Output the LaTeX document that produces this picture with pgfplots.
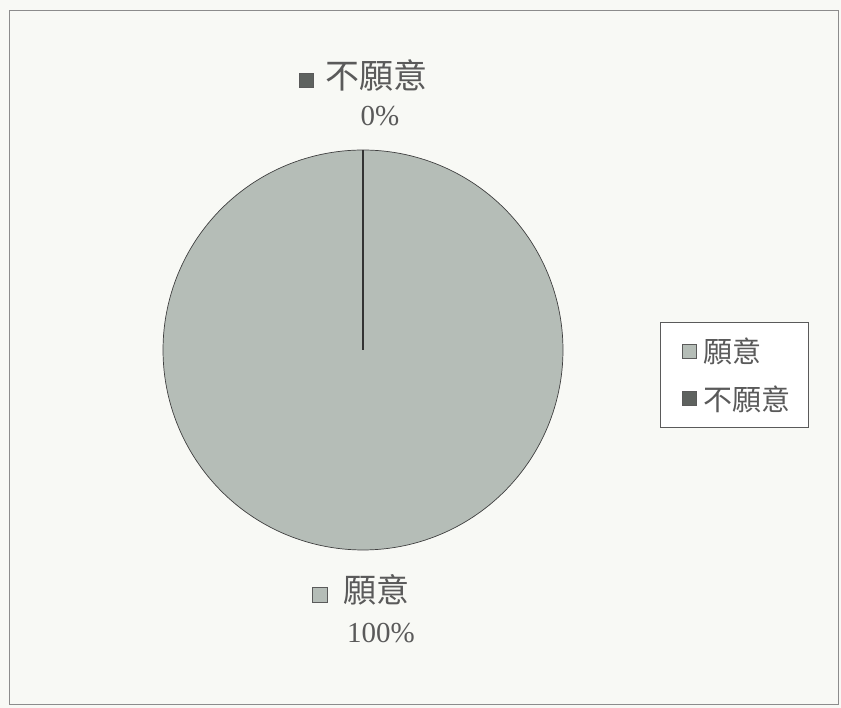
\documentclass[border=0pt]{standalone}
\usepackage{pgfplots}
\pgfplotsset{compat=1.18}
\usepackage{pgfplotstable}
\usepackage{fontspec}
\setmainfont{Liberation Serif}
\newfontfamily\cjk{Noto Sans CJK TC}
\definecolor{bgc}{HTML}{F8F9F5}
\definecolor{yesc}{HTML}{B5BDB7}
\definecolor{noc}{HTML}{5E625F}
\definecolor{txt}{HTML}{5A5A5A}
\pgfplotstableread{
label share
yes 100
no 0
}\piedata
\begin{document}
\begin{tikzpicture}
\pgfplotstablegetelem{0}{share}\of\piedata \let\yesv\pgfplotsretval
\pgfplotstablegetelem{1}{share}\of\piedata \let\nov\pgfplotsretval
\pgfmathsetmacro{\yesend}{90-3.6*\yesv}
\begin{axis}[
  scale only axis, width=841pt, height=708pt,
  xmin=0, xmax=841, ymin=0, ymax=708,
  hide axis, clip=false,
  legend style={at={(660/841,386/708)}, anchor=north west, draw=txt, fill=white,
    font=\fontsize{29}{32}\selectfont\cjk\color{txt}, inner xsep=10pt, inner ysep=14pt,
    row sep=17pt, line width=0.6pt, text width=93pt},
  legend cell align=left,
  legend image code/.code={\path (0pt,0pt) (30pt,0pt);\draw[#1, draw=txt, line width=0.6pt] (12pt,-7pt) rectangle (26pt,7pt);},
]
\fill[bgc] (axis cs:0,0) rectangle (axis cs:841,708);
\draw[color=black!45, line width=0.8pt] (axis cs:9,4) rectangle (axis cs:838,698);
% 願意 slice
\addplot[fill=yesc, draw=black!75, line width=0.7pt, domain=\yesend:90, samples=241, variable=\t]
  ({363+200*cos(t)}, {358+200*sin(t)});
\addlegendentry{願意}
\addplot[draw=black!80, line width=1.1pt, forget plot] coordinates {(363,358) (363,558)};
\addlegendimage{fill=noc}
\addlegendentry{不願意}
% data labels
\node[anchor=west, font=\fontsize{34}{36}\selectfont\cjk, text=txt] at (axis cs:295,633)
  {\tikz\draw[fill=noc, draw=txt, line width=0.6pt] (0,0) rectangle (14pt,14pt);\hspace{12pt}不願意};
\node[font=\fontsize{29}{32}\selectfont, text=txt] at (axis cs:380,592) {\nov\%};
\node[anchor=west, font=\fontsize{33}{36}\selectfont\cjk, text=txt] at (axis cs:308,118)
  {\tikz\draw[fill=yesc, draw=txt, line width=0.6pt] (0,0) rectangle (15pt,15pt);\hspace{16pt}願意};
\node[font=\fontsize{29}{32}\selectfont, text=txt] at (axis cs:381,75) {\yesv\%};
\end{axis}
\end{tikzpicture}
\end{document}
